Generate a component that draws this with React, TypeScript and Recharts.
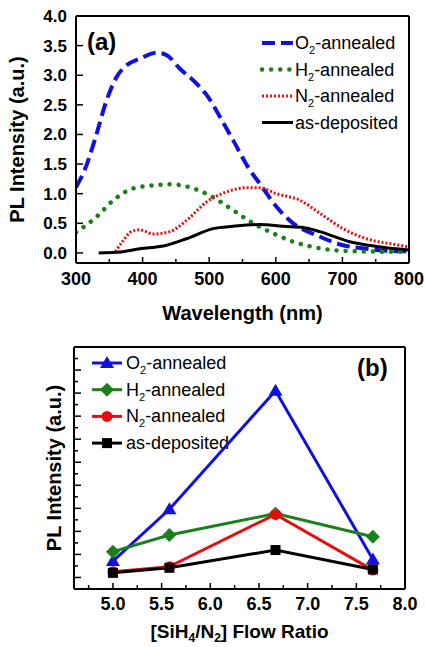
import { LineChart, Line, XAxis, YAxis, Label, ReferenceLine, CartesianGrid } from 'recharts'

// ---- panel (a): PL spectra ----
const o2Spectrum = [
  { x: 300, y: 1.11 }, { x: 313, y: 1.4 }, { x: 328, y: 1.9 }, { x: 346, y: 2.58 },
  { x: 361, y: 2.97 }, { x: 376, y: 3.17 }, { x: 396, y: 3.28 }, { x: 421, y: 3.38 },
  { x: 436, y: 3.34 }, { x: 456, y: 3.11 }, { x: 481, y: 2.86 }, { x: 498, y: 2.64 },
  { x: 516, y: 2.3 }, { x: 536, y: 1.9 }, { x: 561, y: 1.4 }, { x: 576, y: 1.17 },
  { x: 601, y: 0.78 }, { x: 626, y: 0.5 }, { x: 661, y: 0.3 }, { x: 701, y: 0.13 },
  { x: 736, y: 0.07 }, { x: 786, y: 0.03 }, { x: 800, y: 0.03 },
]
const h2Spectrum = [
  { x: 300, y: 0.35 }, { x: 331, y: 0.61 }, { x: 356, y: 0.89 }, { x: 386, y: 1.09 },
  { x: 416, y: 1.14 }, { x: 441, y: 1.16 }, { x: 476, y: 1.09 }, { x: 501, y: 0.97 },
  { x: 536, y: 0.72 }, { x: 566, y: 0.5 }, { x: 596, y: 0.33 }, { x: 626, y: 0.19 },
  { x: 661, y: 0.09 }, { x: 711, y: 0.03 }, { x: 786, y: 0.02 }, { x: 800, y: 0.02 },
]
const n2Spectrum = [
  { x: 359, y: 0.02 }, { x: 371, y: 0.21 }, { x: 383, y: 0.36 }, { x: 396, y: 0.39 },
  { x: 416, y: 0.32 }, { x: 441, y: 0.36 }, { x: 466, y: 0.55 }, { x: 496, y: 0.86 },
  { x: 526, y: 1.03 }, { x: 556, y: 1.1 }, { x: 576, y: 1.1 }, { x: 601, y: 1.0 },
  { x: 636, y: 0.89 }, { x: 666, y: 0.67 }, { x: 701, y: 0.41 }, { x: 736, y: 0.24 },
  { x: 786, y: 0.13 }, { x: 800, y: 0.1 },
]
const asDepSpectrum = [
  { x: 334, y: 0.0 }, { x: 361, y: 0.01 }, { x: 396, y: 0.07 }, { x: 436, y: 0.13 },
  { x: 466, y: 0.24 }, { x: 506, y: 0.41 }, { x: 536, y: 0.45 }, { x: 576, y: 0.48 },
  { x: 611, y: 0.45 }, { x: 641, y: 0.43 }, { x: 666, y: 0.36 }, { x: 711, y: 0.19 },
  { x: 751, y: 0.11 }, { x: 800, y: 0.05 },
]
const wavelengthTicks = [300, 350, 400, 450, 500, 550, 600, 650, 700, 750, 800]
const intensityTicks = [0, 0.5, 1, 1.5, 2, 2.5, 3, 3.5, 4]

// ---- panel (b): PL vs flow ratio ----
const flowRatio = [5.0, 5.58, 6.67, 7.67]
const o2Peak = [1.71, 3.96, 9.1, 1.78]
const h2Peak = [2.12, 2.84, 3.77, 2.77]
const n2Peak = [1.25, 1.47, 3.74, 1.32]
const asDepPeak = [1.2, 1.42, 2.19, 1.35]
const ratioTicks = [4.75, 5, 5.25, 5.5, 5.75, 6, 6.25, 6.5, 6.75, 7, 7.25, 7.5, 7.75, 8]
const peakTicks = [1, 1.5, 2, 2.5, 3, 3.5, 4, 4.5, 5, 5.5, 6, 6.5, 7, 7.5, 8, 8.5, 9, 9.5, 10, 10.5]

const seriesNames = [
  { gas: 'O', sub: '2', rest: '-annealed' },
  { gas: 'H', sub: '2', rest: '-annealed' },
  { gas: 'N', sub: '2', rest: '-annealed' },
  { gas: 'as-deposited', sub: '', rest: '' },
]

const peakRows = flowRatio.map((r, i) => ({
  ratio: r, o2: o2Peak[i], h2: h2Peak[i], n2: n2Peak[i], asdep: asDepPeak[i],
}))

const FONT = '"Liberation Sans", Arial, sans-serif'
const BLUE = '#1010e0'
const GREEN = '#1a801a'
const RED = '#e01010'

function BottomTick(props: any) {
  const { x, y, payload, major, fmt, labelDy } = props
  const isMajor = major(payload.value)
  return (
    <g>
      <line x1={x} x2={x} y1={y} y2={y - (isMajor ? 6 : 4)} stroke="#000" strokeWidth={1.5} />
      {isMajor && (
        <text x={x} y={y + labelDy} textAnchor="middle" fontFamily={FONT} fontWeight="bold" fontSize={18} fill="#000">
          {fmt(payload.value)}
        </text>
      )}
    </g>
  )
}

function LeftTick(props: any) {
  const { x, y, payload, major, showLabel } = props
  const isMajor = major(payload.value)
  return (
    <g>
      <line x1={x} x2={x + (isMajor ? 7 : 4)} y1={y} y2={y} stroke="#000" strokeWidth={1.5} />
      {showLabel && isMajor && (
        <text x={x - 9} y={y + 6} textAnchor="end" fontFamily={FONT} fontWeight="bold" fontSize={17} fill="#000">
          {payload.value.toFixed(1)}
        </text>
      )}
    </g>
  )
}

function LegendName({ x, y, idx }: { x: number; y: number; idx: number }) {
  const n = seriesNames[idx]
  return (
    <text x={x} y={y + 6} fontFamily={FONT} fontSize={18} fill="#000">
      {n.gas}
      {n.sub && <tspan dy={5} fontSize={11}>{n.sub}</tspan>}
      {n.rest && <tspan dy={-5}>{n.rest}</tspan>}
    </text>
  )
}

function Marker({ cx, cy, kind, color }: { cx: number; cy: number; kind: string; color: string }) {
  if (kind === 'tri') return <polygon points={`${cx},${cy - 7} ${cx - 7},${cy + 5} ${cx + 7},${cy + 5}`} fill={color} />
  if (kind === 'dia') return <polygon points={`${cx},${cy - 7} ${cx + 7},${cy} ${cx},${cy + 7} ${cx - 7},${cy}`} fill={color} />
  if (kind === 'circ') return <circle cx={cx} cy={cy} r={5.5} fill={color} />
  return <rect x={cx - 5} y={cy - 5} width={10} height={10} fill={color} />
}

const specStyles = [
  { data: o2Spectrum, color: BLUE, width: 4, dash: '13 6', cap: 'butt' },
  { data: h2Spectrum, color: GREEN, width: 4.5, dash: '0.1 9', cap: 'round' },
  { data: n2Spectrum, color: RED, width: 3, dash: '2 2', cap: 'butt' },
  { data: asDepSpectrum, color: '#000', width: 3, dash: undefined, cap: 'butt' },
]

const peakStyles = [
  { key: 'o2', color: BLUE, kind: 'tri' },
  { key: 'h2', color: GREEN, kind: 'dia' },
  { key: 'n2', color: RED, kind: 'circ' },
  { key: 'asdep', color: '#000', kind: 'sq' },
]

function YTitle({ viewBox, cx }: any) {
  const cy = viewBox.y + viewBox.height / 2
  return (
    <text x={cx} y={cy} transform={`rotate(-90 ${cx} ${cy})`} textAnchor="middle" dominantBaseline="central"
      fontFamily={FONT} fontWeight="bold" fontSize={20} fill="#000">
      PL Intensity (a.u.)
    </text>
  )
}

const frame = { stroke: '#000', strokeWidth: 2 }
// grid lines only at the top and right edges of the plot, to close the box
const topEdge = ({ offset }: any) => [offset.top]
const rightEdge = ({ offset }: any) => [offset.left + offset.width]

export default function App() {
  return (
    <div style={{ position: 'absolute', left: 0, top: 0, width: 425, height: 647, background: '#fff' }}>
      <LineChart width={425} height={325} margin={{ top: 16, right: 16, left: 0, bottom: 0 }}>
        <CartesianGrid xAxisId="b" yAxisId="l" stroke="#000" strokeWidth={2}
          horizontalCoordinatesGenerator={topEdge} verticalCoordinatesGenerator={rightEdge} />
        <XAxis xAxisId="b" type="number" dataKey="x" domain={[300, 800]} ticks={wavelengthTicks} allowDataOverflow
          interval={0} height={62} tickLine={false} tickSize={0} tickMargin={0} axisLine={frame}
          tick={<BottomTick major={(v: number) => v % 100 === 0} fmt={(v: number) => String(v)} labelDy={21.5} />}>
          <Label content={({ viewBox }: any) => (
            <text x={viewBox.x + viewBox.width / 2} y={viewBox.y + viewBox.height - 5} textAnchor="middle"
              fontFamily={FONT} fontWeight="bold" fontSize={20} fill="#000">Wavelength (nm)</text>
          )} />
        </XAxis>
        <YAxis yAxisId="l" type="number" domain={[-0.17, 4]} ticks={intensityTicks} allowDataOverflow width={76}
          interval={0} tickLine={false} tickSize={0} tickMargin={0} axisLine={frame}
          tick={<LeftTick major={() => true} showLabel />}>
          <Label content={(p: any) => <YTitle {...p} cx={17} />} />
        </YAxis>
        <ReferenceLine xAxisId="b" yAxisId="l" y={4} stroke="#000" strokeWidth={2} ifOverflow="visible" />
        <ReferenceLine xAxisId="b" yAxisId="l" x={800} stroke="#000" strokeWidth={2} ifOverflow="visible" />
        {specStyles.map((s, i) => (
          <Line key={i} xAxisId="b" yAxisId="l" data={s.data} dataKey="y" type="monotone" stroke={s.color}
            strokeWidth={s.width} strokeDasharray={s.dash} strokeLinecap={s.cap as any} dot={false}
            isAnimationActive={false} />
        ))}
        <text x={87} y={50} fontFamily={FONT} fontWeight="bold" fontSize={24} fill="#000">(a)</text>
        {specStyles.map((s, i) => (
          <g key={'lg' + i}>
            <line x1={262} x2={293} y1={43 + i * 26.5} y2={43 + i * 26.5} stroke={s.color} strokeWidth={s.width}
              strokeDasharray={s.dash} strokeLinecap={s.cap as any} />
            <LegendName x={295} y={43 + i * 26.5} idx={i} />
          </g>
        ))}
      </LineChart>
      <LineChart width={425} height={322} data={peakRows} margin={{ top: 22, right: 20, left: 0, bottom: 0 }}>
        <CartesianGrid xAxisId="b" yAxisId="l" stroke="#000" strokeWidth={2}
          horizontalCoordinatesGenerator={topEdge} verticalCoordinatesGenerator={rightEdge} />
        <XAxis xAxisId="b" type="number" dataKey="ratio" domain={[4.6, 8]} ticks={ratioTicks} allowDataOverflow
          interval={0} height={58} tickLine={false} tickSize={0} tickMargin={0} axisLine={frame}
          tick={<BottomTick major={(v: number) => Math.abs(v * 2 - Math.round(v * 2)) < 1e-6} fmt={(v: number) => v.toFixed(1)} labelDy={21} />}>
          <Label content={({ viewBox }: any) => (
            <text x={viewBox.x + viewBox.width / 2} y={viewBox.y + viewBox.height - 9} textAnchor="middle"
              fontFamily={FONT} fontWeight="bold" fontSize={19} fill="#000">
              [SiH<tspan dy={4} fontSize={12}>4</tspan><tspan dy={-4}>/N</tspan><tspan dy={4} fontSize={12}>2</tspan><tspan dy={-4}>] Flow Ratio</tspan>
            </text>
          )} />
        </XAxis>
        <YAxis yAxisId="l" type="number" domain={[0.5, 11]} ticks={peakTicks} allowDataOverflow width={74}
          interval={0} tickLine={false} tickSize={0} tickMargin={0} axisLine={frame}
          tick={<LeftTick major={(v: number) => Number.isInteger(v)} showLabel={false} />}>
          <Label content={(p: any) => <YTitle {...p} cx={54} />} />
        </YAxis>
        <ReferenceLine xAxisId="b" yAxisId="l" y={11} stroke="#000" strokeWidth={2} ifOverflow="visible" />
        <ReferenceLine xAxisId="b" yAxisId="l" x={8} stroke="#000" strokeWidth={2} ifOverflow="visible" />
        {peakStyles.map((s) => (
          <Line key={s.key} xAxisId="b" yAxisId="l" dataKey={s.key} type="linear" stroke={s.color} strokeWidth={3}
            isAnimationActive={false}
            dot={(p: any) => <Marker key={s.key + p.index} cx={p.cx} cy={p.cy} kind={s.kind} color={s.color} />} />
        ))}
        <text x={357} y={51} fontFamily={FONT} fontWeight="bold" fontSize={24} fill="#000">(b)</text>
        {peakStyles.map((s, i) => (
          <g key={'lb' + s.key}>
            <line x1={92} x2={122} y1={38 + i * 26.7} y2={38 + i * 26.7} stroke={s.color} strokeWidth={3} />
            <Marker cx={107} cy={38 + i * 26.7} kind={s.kind} color={s.color} />
            <LegendName x={126} y={38 + i * 26.7} idx={i} />
          </g>
        ))}
      </LineChart>
    </div>
  )
}
